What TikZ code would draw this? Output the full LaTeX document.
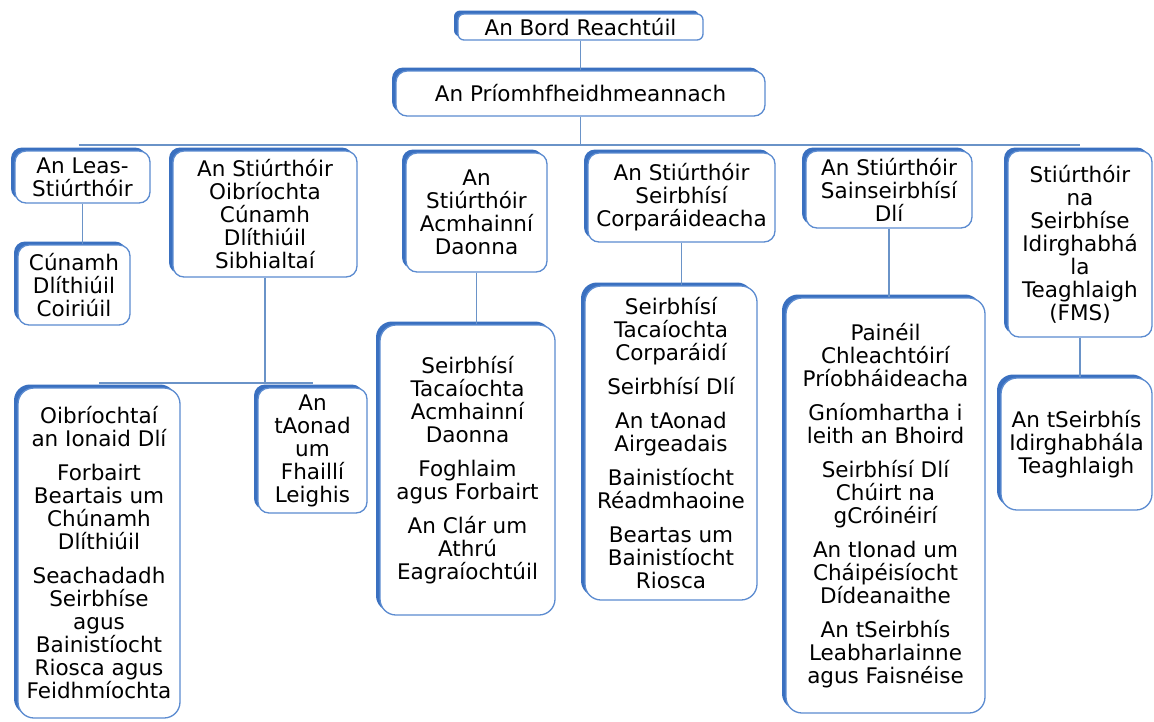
\documentclass[tikz,border=0pt]{standalone}
\usepackage{fontspec}
\setmainfont{DejaVu Sans}
\usetikzlibrary{shadows}
\definecolor{thickblue}{HTML}{3A70C0}
\definecolor{thinblue}{HTML}{5B8BD0}
\definecolor{connblue}{HTML}{6A93C8}
\newcommand{\gp}{\\[11pt]}
\tikzset{
  box/.style={draw=thinblue, line width=1.3pt, fill=white, rounded corners=11pt,
    align=center, inner sep=0pt,
    font=\fontsize{21.5pt}{23pt}\selectfont,
    general shadow={fill=thickblue, shadow xshift=-4pt, shadow yshift=3.5pt}},
  conn/.style={draw=connblue, line width=1.6pt},
  sz/.style 2 args={minimum width=#1pt, minimum height=#2pt}
}
\begin{document}
\begin{tikzpicture}[x=1pt,y=-1pt]
\useasboundingbox (0,0) rectangle (1154,721);
\fill[white] (0,0) rectangle (1154,721);
% level 0/1
\node[box, sz={245}{26}, rounded corners=6pt] (bord) at (580.5,27) {An Bord Reachtúil};
\node[box, sz={369}{45}] (ceo) at (580.5,93.5) {An Príomhfheidhmeannach};
% level 2
\node[box, sz={135}{52}] (leas) at (82.5,177) {An Leas-\\Stiúrthóir};
\node[box, sz={184}{126}] (oib) at (265,214) {An Stiúrthóir\\Oibríochta\\Cúnamh\\Dlíthiúil\\Sibhialtaí};
\node[box, sz={141}{119}] (hr) at (476.5,212.5) {An\\Stiúrthóir\\Acmhainní\\Daonna};
\node[box, sz={187}{89}] (corp) at (681.5,197.5) {An Stiúrthóir\\Seirbhísí\\Corparáideacha};
\node[box, sz={166}{77}] (sain) at (889,189.5) {An Stiúrthóir\\Sainseirbhísí\\Dlí};
\node[box, sz={144}{186}] (fms) at (1080,244) {Stiúrthóir\\na\\Seirbhíse\\Idirghabhá\\la\\Teaghlaigh\\(FMS)};
% level 3
\node[box, sz={112}{80}] (crim) at (74,285) {Cúnamh\\Dlíthiúil\\Coiriúil};
\node[box, sz={162}{330}, rounded corners=16pt] (oibc) at (99,553) {Oibríochtaí\\an Ionaid Dlí\gp Forbairt\\Beartais um\\Chúnamh\\Dlíthiúil\gp Seachadadh\\Seirbhíse\\agus\\Bainistíocht\\Riosca agus\\Feidhmíochta};
\node[box, sz={109}{125}] (faill) at (312.5,450.5) {An\\tAonad\\um\\Fhaillí\\Leighis};
\node[box, sz={175}{290}, rounded corners=16pt] (hrc) at (467.5,470) {Seirbhísí\\Tacaíochta\\Acmhainní\\Daonna\gp Foghlaim\\agus Forbairt\gp An Clár um\\Athrú\\Eagraíochtúil};
\node[box, sz={172}{314}, rounded corners=16pt] (corpc) at (671,443) {Seirbhísí\\Tacaíochta\\Corparáidí\gp Seirbhísí Dlí\gp An tAonad\\Airgeadais\gp Bainistíocht\\Réadmhaoine\gp Beartas um\\Bainistíocht\\Riosca};
\node[box, sz={199}{415}, rounded corners=16pt] (sainc) at (885.5,505.5) {Painéil\\Chleachtóirí\\Príobháideacha\gp Gníomhartha i\\leith an Bhoird\gp Seirbhísí Dlí\\Chúirt na\\gCróinéirí\gp An tIonad um\\Cháipéisíocht\\Dídeanaithe\gp An tSeirbhís\\Leabharlainne\\agus Faisnéise};
\node[box, sz={151}{132}, rounded corners=16pt] (fmsc) at (1076.5,444) {An tSeirbhís\\Idirghabhála\\Teaghlaigh};
% connectors
\coordinate (bus) at (0,145);
\coordinate (sub) at (0,383);
\draw[conn] (bord.south) -- (ceo.north);
\draw[conn] (ceo.south) -- (ceo.south |- bus);
\draw[conn] ([xshift=-4pt]leas.north |- bus) -- (fms.north |- bus);
\draw[conn] (leas.south) -- (crim.north -| leas.south);
\draw[conn] (oib.south) -- (oib.south |- sub);
\draw[conn] (oibc.north |- sub) -- (faill.north |- sub);
\draw[conn] (hr.south) -- (hrc.north -| hr.south);
\draw[conn] (corp.south) -- (corpc.north -| corp.south);
\draw[conn] (sain.south) -- (sainc.north -| sain.south);
\draw[conn] (fms.south) -- (fmsc.north -| fms.south);
\end{tikzpicture}
\end{document}
